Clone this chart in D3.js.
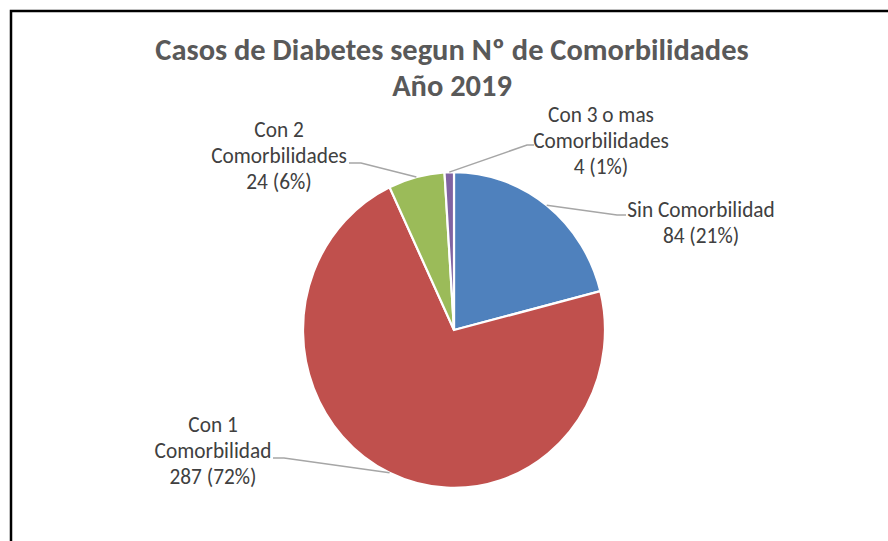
<!DOCTYPE html>
<html>
<head>
<meta charset="utf-8">
<script src="https://cdn.jsdelivr.net/npm/d3@7"></script>
<style>
    html, body { margin: 0; padding: 0; background: #fff; }
    svg { display: block; }
    text { font-family: Calibri, Carlito, Lato, "Open Sans", sans-serif; }
</style>
</head>
<body>
<svg id="chart" width="888" height="541"></svg>
<script>

/*---------------------------------- data ----------------------------------*/

var categories = ["Sin Comorbilidad", "Con 1 Comorbilidad", "Con 2 Comorbilidades", "Con 3 o mas Comorbilidades"];
var casos = [84, 287, 24, 4];
var labelLines = [["Sin Comorbilidad"], ["Con 1", "Comorbilidad"], ["Con 2", "Comorbilidades"], ["Con 3 o mas", "Comorbilidades"]];
var colors = ["#4f81bd", "#c0504d", "#9bbb59", "#8064a2"];
var titleLines = ["Casos de Diabetes segun N\u00ba de Comorbilidades", "A\u00f1o 2019"];

/*---------------------------------- layout ----------------------------------*/

var width = 888, height = 541;
var cx = 454, cy = 330;
var radius = 151;
var stretch = 1.046; //the original picture is a bit taller than wide

//label boxes: text centre x, first baseline y, leader elbow and end
var labelPos = [
    { x: 701, y: 217, elbow: [617, 215], end: [626, 215] },
    { x: 213, y: 432, elbow: [284, 458], end: [273, 458] },
    { x: 279, y: 137, elbow: [361, 163], end: [349, 163] },
    { x: 601, y: 122, elbow: [527, 145], end: [534, 145] }
];

var svg = d3.select("#chart");

//frame (cut on the right and bottom like the screenshot)
svg.append("rect")
    .attr("x", 11).attr("y", 11)
    .attr("width", width + 20).attr("height", height + 20)
    .attr("fill", "#fff")
    .attr("stroke", "#000")
    .attr("stroke-width", 2.5);

//title
svg.append("g")
    .selectAll("text")
    .data(titleLines)
    .enter().append("text")
    .attr("transform", function (d, i) { return "translate(" + 452 + "," + (60 + i * 36) + ") scale(1.05," + stretch + ")"; })
    .attr("text-anchor", "middle")
    .attr("font-size", 29)
    .attr("font-weight", "bold")
    .attr("fill", "#595959")
    .text(function (d) { return d; });

/*---------------------------------- pie ----------------------------------*/

var total = d3.sum(casos);
var pct = d3.format(".0%");

var pie = d3.pie().sort(null).value(function (d) { return d; });
var arcs = pie(casos);
var arc = d3.arc().innerRadius(0).outerRadius(radius);

var pieG = svg.append("g")
    .attr("transform", "translate(" + cx + "," + cy + ") scale(1," + stretch + ")");

pieG.selectAll("path")
    .data(arcs)
    .enter().append("path")
    .attr("d", arc)
    .attr("fill", function (d, i) { return colors[i]; })
    .attr("stroke", "#fff")
    .attr("stroke-width", 2.2)
    .attr("stroke-linejoin", "miter");

//point on the rim at the slice middle
function rimPoint(d) {
    var a = (d.startAngle + d.endAngle) / 2;
    return [cx + radius * Math.sin(a), cy - radius * stretch * Math.cos(a)];
}

//leader lines
svg.append("g")
    .selectAll("polyline")
    .data(arcs)
    .enter().append("polyline")
    .attr("points", function (d, i) {
        var p = rimPoint(d);
        return [p, labelPos[i].elbow, labelPos[i].end].map(function (q) { return q.join(","); }).join(" ");
    })
    .attr("fill", "none")
    .attr("stroke", "#a6a6a6")
    .attr("stroke-width", 1.5);

//labels
var labels = svg.append("g")
    .selectAll("g")
    .data(arcs)
    .enter().append("g");

labels.each(function (d, i) {
    var lines = labelLines[i].concat([casos[i] + " (" + pct(casos[i] / total) + ")"]);
    d3.select(this).selectAll("text")
        .data(lines)
        .enter().append("text")
        .attr("transform", function (t, j) { return "translate(" + labelPos[i].x + "," + (labelPos[i].y + j * 26) + ") scale(1.04," + stretch + ")"; })
        .attr("text-anchor", "middle")
        .attr("font-size", 20.5)
        .attr("fill", "#404040")
        .text(function (t) { return t; });
});

</script>
</body>
</html>
